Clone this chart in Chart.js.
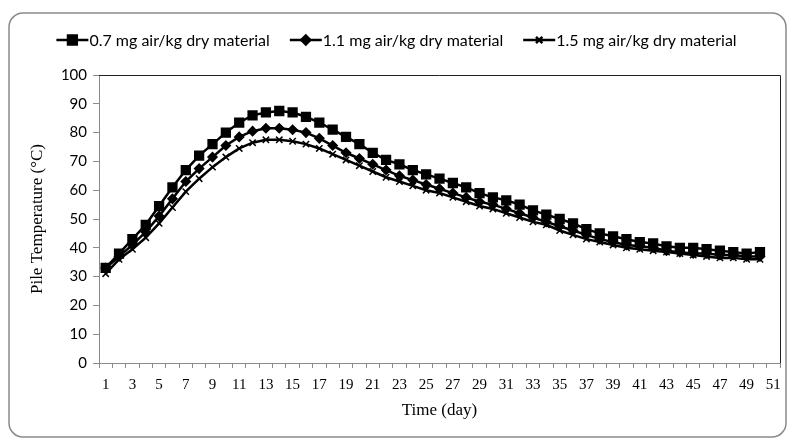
<!DOCTYPE html>
<html>
<head>
<meta charset="utf-8">
<script src="https://cdn.jsdelivr.net/npm/chart.js@4.4.1/dist/chart.umd.min.js"></script>
<style>
  html, body { margin: 0; padding: 0; background: #fff; }
  #wrap { width: 793px; height: 442px; position: relative; }
</style>
</head>
<body>
<div id="wrap"><canvas id="pileChart" width="793" height="442"></canvas></div>
<script>
// ── Data ──────────────────────────────────────────────────────────────────────
const days = Array.from({ length: 51 }, (_, i) => String(i + 1));

const rate07 = [33, 38, 43, 48, 54.5, 61, 67, 72, 76, 80,
  83.5, 86, 87, 87.5, 87, 85.5, 83.5, 81, 78.5, 76,
  73, 70.5, 69, 67, 65.5, 64, 62.5, 61, 59, 57.5,
  56.5, 55, 53, 51.5, 50, 48.5, 46.5, 45, 44, 43,
  42, 41.5, 40.5, 40, 40, 39.5, 39, 38.5, 38, 38.5];

const rate11 = [33, 37, 41, 45.5, 51, 57, 63, 67.5, 71.5, 75.5,
  78.5, 80.5, 81.5, 81.5, 81, 80, 78, 75.5, 73, 71,
  69, 67, 65, 63.5, 62, 60.5, 59, 57.5, 56, 55,
  53.5, 52, 50.5, 49, 47.5, 46, 44.5, 43, 42, 41,
  40.5, 40, 39, 38.5, 38, 38, 37.5, 37.5, 37, 37];

const rate15 = [31, 36, 39.5, 43.5, 48.5, 54, 59.5, 64, 68, 71.5,
  74.5, 76.5, 77.5, 77.5, 77, 76, 74.5, 72.5, 70.5, 68.5,
  66.5, 64.5, 63, 61.5, 60, 59, 57.5, 56, 54.5, 53.5,
  52, 50.5, 49, 48, 46, 44.5, 43, 42, 41, 40,
  39.5, 39, 38.5, 38, 37.5, 37, 36.5, 36.5, 36, 36];

const seriesNames = ['0.7 mg air/kg dry material', '1.1 mg air/kg dry material', '1.5 mg air/kg dry material'];

// ── Plugins ───────────────────────────────────────────────────────────────────
const framePlugin = {
  id: 'frame',
  beforeDraw(chart) {
    const { ctx } = chart;
    ctx.save();
    ctx.fillStyle = '#fff';
    ctx.fillRect(0, 0, chart.width, chart.height);
    ctx.strokeStyle = '#8a8a8a';
    ctx.lineWidth = 1.5;
    ctx.beginPath();
    ctx.roundRect(9, 13, 777, 424, 14);
    ctx.stroke();
    ctx.restore();
  },
  afterDraw(chart) {
    // dark top + right border of the plot area
    const { ctx, chartArea: a } = chart;
    ctx.save();
    ctx.strokeStyle = '#222';
    ctx.lineWidth = 1;
    ctx.beginPath();
    ctx.moveTo(a.left, a.top + 0.5);
    ctx.lineTo(a.right + 0.5, a.top + 0.5);
    ctx.lineTo(a.right + 0.5, a.bottom);
    ctx.stroke();
    ctx.restore();
  },
};

const legendPlugin = {
  id: 'lineLegend',
  afterDraw(chart) {
    const { ctx } = chart;
    const y = 40;
    const lineLen = 32;
    const gap = 20;
    ctx.save();
    ctx.font = '16px Lato, "Open Sans", sans-serif';
    ctx.textBaseline = 'middle';
    const items = chart.data.datasets.map(ds => ({ ds, w: ctx.measureText(ds.label).width }));
    const total = items.reduce((s, it) => s + lineLen + 1 + it.w, 0) + gap * (items.length - 1);
    let x = (chart.width - total) / 2;
    items.forEach(({ ds, w }) => {
      ctx.strokeStyle = '#000';
      ctx.lineWidth = 2.5;
      ctx.beginPath();
      ctx.moveTo(x, y);
      ctx.lineTo(x + lineLen, y);
      ctx.stroke();
      Chart.helpers.drawPoint(ctx, {
        pointStyle: ds.pointStyle,
        radius: ds.pointRadius,
        borderWidth: ds.pointBorderWidth,
      }, x + lineLen / 2, y);
      ctx.fillStyle = '#000';
      ctx.fillText(ds.label, x + lineLen + 1, y + 1);
      x += lineLen + 1 + w + gap;
    });
    ctx.restore();
  },
};

// ── Chart ─────────────────────────────────────────────────────────────────────
function makeSet(label, data, style, radius) {
  return {
    label,
    data,
    borderColor: '#000',
    backgroundColor: '#000',
    borderWidth: 2.5,
    pointStyle: style,
    pointRadius: radius,
    pointBorderWidth: 1.5,
    pointBackgroundColor: '#000',
    pointBorderColor: '#000',
    tension: 0,
  };
}

new Chart(document.getElementById('pileChart').getContext('2d'), {
  type: 'line',
  data: {
    labels: days,
    datasets: [
      makeSet(seriesNames[0], rate07, 'rect', 6.2),
      makeSet(seriesNames[1], rate11, 'rectRot', 4.5),
      makeSet(seriesNames[2], rate15, 'crossRot', 4.5),
    ],
  },
  plugins: [framePlugin, legendPlugin],
  options: {
    responsive: false,
    animation: false,
    events: [],
    layout: { padding: { left: 0, right: 13, top: 75, bottom: 0 } },
    plugins: { legend: { display: false }, tooltip: { enabled: false } },
    scales: {
      x: {
        type: 'category',
        offset: true,
        afterFit: s => { s.height = 79; },
        grid: { display: true, offset: true, drawOnChartArea: false, drawTicks: true, tickLength: 5, color: '#8a8a8a' },
        border: { color: '#8a8a8a', width: 1 },
        ticks: {
          autoSkip: false,
          maxRotation: 0,
          padding: 8,
          color: '#000',
          font: { family: '"Liberation Serif", "Times New Roman", serif', size: 15 },
          callback: (v, i) => (i % 2 === 0 ? days[i] : ''),
        },
        title: {
          display: true,
          text: 'Time (day)',
          color: '#000',
          font: { family: '"Liberation Serif", "Times New Roman", serif', size: 17 },
          padding: { top: 0, bottom: 21 },
        },
      },
      y: {
        min: 0,
        max: 100,
        afterFit: s => { s.width = 99; },
        grid: { display: true, drawOnChartArea: false, drawTicks: true, tickLength: 6, color: '#8a8a8a' },
        border: { color: '#8a8a8a', width: 1 },
        ticks: {
          stepSize: 10,
          padding: 6,
          color: '#000',
          font: { family: 'Lato, "Open Sans", sans-serif', size: 15 },
        },
        title: {
          display: true,
          text: 'Pile Temperature (°C)',
          color: '#000',
          font: { family: '"Liberation Serif", "Times New Roman", serif', size: 17 },
          padding: { top: 27, bottom: 0 },
        },
      },
    },
  },
});
</script>
</body>
</html>
